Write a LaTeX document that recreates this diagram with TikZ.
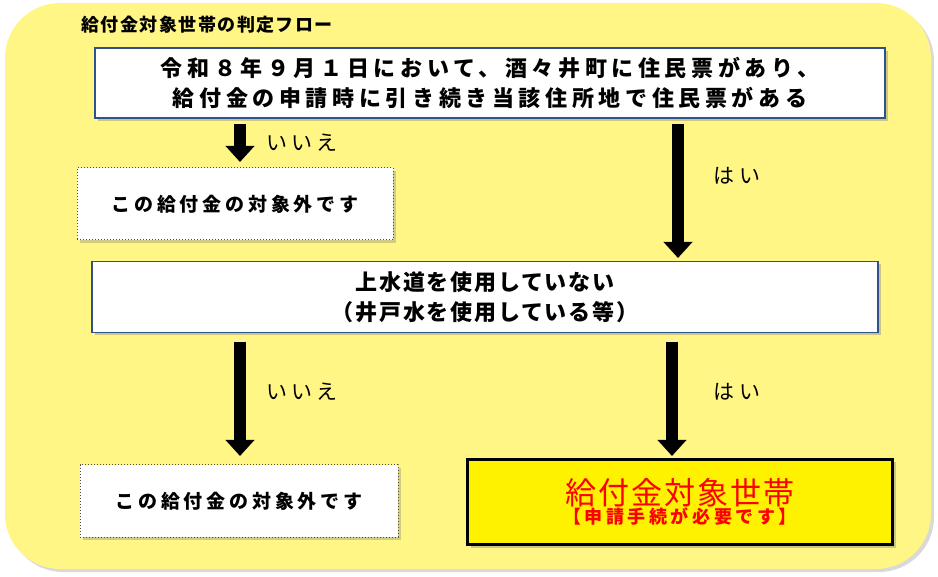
\documentclass[tikz,border=0pt]{standalone}
\usepackage{fontspec}
\setmainfont{Noto Sans CJK JP}
\usetikzlibrary{arrows.meta,shadows}
\definecolor{bgy}{HTML}{FFF685}
\definecolor{bdb}{HTML}{2F528F}
\newcommand{\lsp}[1]{\addfontfeature{LetterSpace=#1}}
\begin{document}
\begin{tikzpicture}[x=1pt,y=-1pt,
 box/.style={draw=bdb,line width=1.5pt,fill=white,drop shadow={opacity=0.4,shadow xshift=3pt,shadow yshift=-3pt},align=center,font=\bfseries\fontsize{22}{30}\selectfont,inner sep=0pt},
 dbox/.style={draw=black!70,dotted,line width=1pt,fill=white,drop shadow={opacity=0.35,shadow xshift=3pt,shadow yshift=-3pt},font=\bfseries\fontsize{19}{22}\selectfont\lsp{20},inner sep=0pt},
 blk/.style={line width=12pt,-{Triangle[width=28pt,length=16pt]}},
 lbl/.style={font=\fontsize{21}{24}\selectfont\lsp{20}}]
\useasboundingbox (0,0) rectangle (938,577);
\fill[bgy,rounded corners=55pt,drop shadow={opacity=0.3,shadow xshift=3pt,shadow yshift=-3pt}] (5,3) rectangle (931,569);
\node[anchor=west,font=\bfseries\fontsize{18}{20}\selectfont\lsp{8}] (t) at (78,25) {給付金対象世帯の判定フロー};
\node[box,font=\bfseries\fontsize{22}{30}\selectfont\lsp{21},minimum width=790pt,minimum height=70pt] (b1) at (490,83) {令和８年９月１日において、酒々井町に住民票があり、\\給付金の申請時に引き続き当該住所地で住民票がある};
\node[dbox,minimum width=316pt,minimum height=72pt] (n1) at (235,204) {この給付金の対象外です};
\node[box,font=\bfseries\fontsize{22}{30}\selectfont\lsp{8},minimum width=786pt,minimum height=71pt] (b2) at (485,297) {上水道を使用していない\\（井戸水を使用している等）};
\node[dbox,minimum width=318pt,minimum height=72pt] (n2) at (239,501) {この給付金の対象外です};
\node[draw=black,line width=2.5pt,fill=yellow,minimum width=425pt,minimum height=85pt,align=center,inner sep=0pt,drop shadow={opacity=0.4,shadow xshift=3pt,shadow yshift=-3pt}] (y) at (680,502) {\textcolor{red}{\fontsize{31}{36}\selectfont\lsp{6}給付金対象世帯}\\[0pt]\textcolor{red}{\bfseries\fontsize{18}{22}\selectfont\lsp{20}【申請手続が必要です】}};
\coordinate (a1s) at (240,124); \coordinate (a1e) at (240,162);
\coordinate (a2s) at (678,124); \coordinate (a2e) at (678,258);
\coordinate (a3s) at (240,342); \coordinate (a3e) at (240,456);
\coordinate (a4s) at (672,342); \coordinate (a4e) at (672,456);
\draw[blk] (a1s) -- (a1e);
\draw[blk] (a2s) -- (a2e);
\draw[blk] (a3s) -- (a3e);
\draw[blk] (a4s) -- (a4e);
\node[lbl] (l1) at (302,143) {いいえ};
\node[lbl] (l2) at (737,176) {はい};
\node[lbl] (l3) at (302,392) {いいえ};
\node[lbl] (l4) at (737,392) {はい};
\end{tikzpicture}
\end{document}
